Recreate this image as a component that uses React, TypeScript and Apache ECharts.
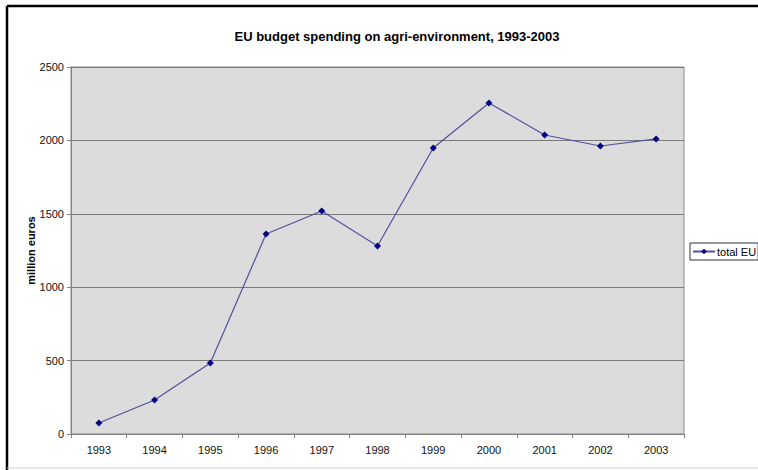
import React, { useEffect, useRef } from "react";
import * as echarts from "echarts";

const years = ["1993", "1994", "1995", "1996", "1997", "1998", "1999", "2000", "2001", "2002", "2003"];
const totalEU = [75, 232, 484, 1362, 1519, 1281, 1948, 2255, 2037, 1962, 2010];
const seriesName = "total EU";
const chartTitle = "EU budget spending on agri-environment, 1993-2003";
const yAxisName = "million euros";

export default function App() {
  const ref = useRef<HTMLDivElement>(null);
  useEffect(() => {
    if (!ref.current) return;
    const chart = echarts.init(ref.current, null, { renderer: "svg" });
    const font = "Liberation Sans, Arial, sans-serif";
    chart.setOption({
      animation: false,
      backgroundColor: "#ffffff",
      textStyle: { fontFamily: font },
      title: {
        text: chartTitle,
        left: 392,
        textAlign: "center",
        top: 25,
        textStyle: { fontSize: 13, fontWeight: "bold", color: "#000", fontFamily: font },
      },
      grid: {
        left: 71,
        top: 67,
        right: 74,
        bottom: 36,
        show: true,
        backgroundColor: "#dcdcdc",
        borderColor: "#8a8a8a",
        borderWidth: 1,
      },
      legend: {
        data: [seriesName],
        left: 690,
        top: 243,
        orient: "vertical",
        padding: [3, 2, 3, 2],
        borderColor: "#333",
        borderWidth: 1,
        backgroundColor: "#fff",
        itemWidth: 22,
        itemHeight: 7,
        itemGap: 2,
        textStyle: { fontSize: 11, color: "#000", fontFamily: font, padding: [0, 0, 0, -3] },
      },
      xAxis: {
        type: "category",
        data: years,
        boundaryGap: true,
        axisLine: { lineStyle: { color: "#808080", width: 1 } },
        axisTick: { show: true, alignWithLabel: false, length: 4, lineStyle: { color: "#808080" } },
        axisLabel: { fontSize: 11, color: "#111", margin: 10, fontFamily: font },
        splitLine: { show: false },
      },
      yAxis: {
        type: "value",
        min: 0,
        max: 2500,
        interval: 500,
        name: yAxisName,
        nameLocation: "middle",
        nameGap: 35,
        nameMoveOverlap: false,
        nameRotate: 90,
        nameTextStyle: { fontSize: 11, fontWeight: "bold", color: "#000", fontFamily: font },
        axisLine: { show: true, lineStyle: { color: "#808080", width: 1 } },
        axisTick: { show: true, length: 4, lineStyle: { color: "#808080" } },
        axisLabel: {
          fontSize: 11,
          color: "#111",
          margin: 7,
          fontFamily: font,
          formatter: (v: number) => String(v),
        },
        splitLine: { show: true, lineStyle: { color: "#7a7a7a", width: 1 } },
      },
      graphic: [
        { type: "line", shape: { x1: 7, y1: 6, x2: 758, y2: 6 }, style: { stroke: "#000", lineWidth: 2.5 } },
        { type: "line", shape: { x1: 7, y1: 6, x2: 7, y2: 470 }, style: { stroke: "#000", lineWidth: 2.5 } },
        { type: "line", shape: { x1: 7, y1: 468, x2: 758, y2: 468 }, style: { stroke: "#cfcfcf", lineWidth: 1 } },
      ],
      series: [
        {
          name: seriesName,
          type: "line",
          data: totalEU,
          symbol: "diamond",
          symbolSize: 7,
          itemStyle: { color: "#000080" },
          lineStyle: { color: "#5050a0", width: 1.2 },
        },
      ],
    });
    return () => chart.dispose();
  }, []);
  return (
    <div
      ref={ref}
      style={{ position: "fixed", left: 0, top: 0, width: 758, height: 470 }}
    />
  );
}
